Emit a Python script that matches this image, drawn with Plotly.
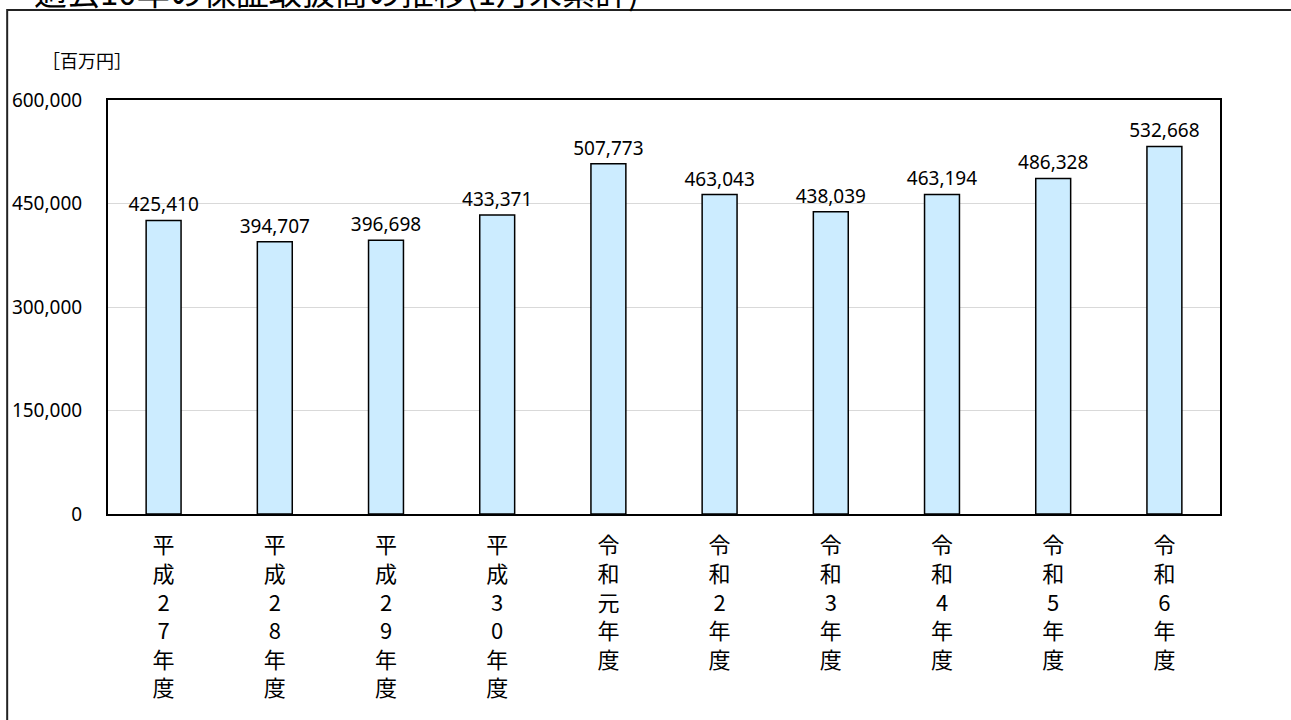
import plotly.graph_objects as go

categories = ["平<br>成<br>2<br>7<br>年<br>度", "平<br>成<br>2<br>8<br>年<br>度", "平<br>成<br>2<br>9<br>年<br>度",
              "平<br>成<br>3<br>0<br>年<br>度", "令<br>和<br>元<br>年<br>度", "令<br>和<br>2<br>年<br>度",
              "令<br>和<br>3<br>年<br>度", "令<br>和<br>4<br>年<br>度", "令<br>和<br>5<br>年<br>度",
              "令<br>和<br>6<br>年<br>度"]
values = [425410, 394707, 396698, 433371, 507773, 463043, 438039, 463194, 486328, 532668]
y_ticks = [0, 150000, 300000, 450000, 600000]
title_text = "過去10年の保証取扱高の推移(1月末累計)"
unit_text = "［百万円］"

W, H = 1291, 720
L, R, T, B = 106, 71, 100, 206
PW, PH = W - L - R, H - T - B

def px_x(p):
    return (p - L) / PW

def px_y(p):
    return (H - B - p) / PH

num_font = "Noto Sans, Open Sans, sans-serif"
jp_font = "Noto Sans CJK JP, sans-serif"

fig = go.Figure()
fig.add_trace(go.Bar(
    x=list(range(len(values))), y=values,
    marker=dict(color="#CCECFF", line=dict(color="#000000", width=1.5)),
    texttemplate="%{y:,}", textposition="outside", constraintext="none",
    textfont=dict(family=num_font, size=19, color="#000000"),
    cliponaxis=False,
))

fig.update_layout(
    width=W, height=H, autosize=False,
    margin=dict(l=L, r=R, t=T, b=B),
    paper_bgcolor="white", plot_bgcolor="white",
    bargap=0.686, showlegend=False,
    xaxis=dict(
        tickmode="array", tickvals=list(range(len(values))), ticktext=categories,
        tickfont=dict(family=jp_font, size=22, color="#000000"),
        showline=True, linecolor="#000000", linewidth=2, mirror=True,
        showgrid=False, ticks="", ticklabelstandoff=11,
        range=[-0.5, len(values) - 0.5],
    ),
    yaxis=dict(
        range=[0, 600000], tickvals=y_ticks, tickformat=",",
        tickfont=dict(family=num_font, size=19, color="#000000"),
        showline=True, linecolor="#000000", linewidth=2, mirror=True,
        showgrid=True, gridcolor="#D9D9D9", gridwidth=1,
        zeroline=False, ticks="", ticklabelstandoff=20,
    ),
    annotations=[
        dict(text=title_text, xref="paper", yref="paper", x=px_x(30), y=px_y(-9),
             xanchor="left", yanchor="middle", showarrow=False,
             font=dict(family=jp_font, size=33, color="#000000")),
        dict(text=unit_text, xref="paper", yref="paper", x=px_x(38), y=px_y(60),
             xanchor="left", yanchor="middle", showarrow=False,
             font=dict(family=jp_font, size=18, color="#000000")),
    ],
    shapes=[
        dict(type="rect", xref="paper", yref="paper",
             x0=px_x(5), x1=px_x(1320), y0=px_y(760), y1=px_y(10),
             line=dict(color="#222222", width=2), fillcolor="rgba(0,0,0,0)", layer="below"),
    ],
)

fig.write_html("out.html", config={"displayModeBar": False})

# remove the browser's default page margin so the figure sits at the window origin
with open("out.html", encoding="utf-8") as f:
    html = f.read()
html = html.replace("<head>", "<head><style>html,body{margin:0;padding:0;overflow:hidden;}</style>", 1)
with open("out.html", "w", encoding="utf-8") as f:
    f.write(html)
